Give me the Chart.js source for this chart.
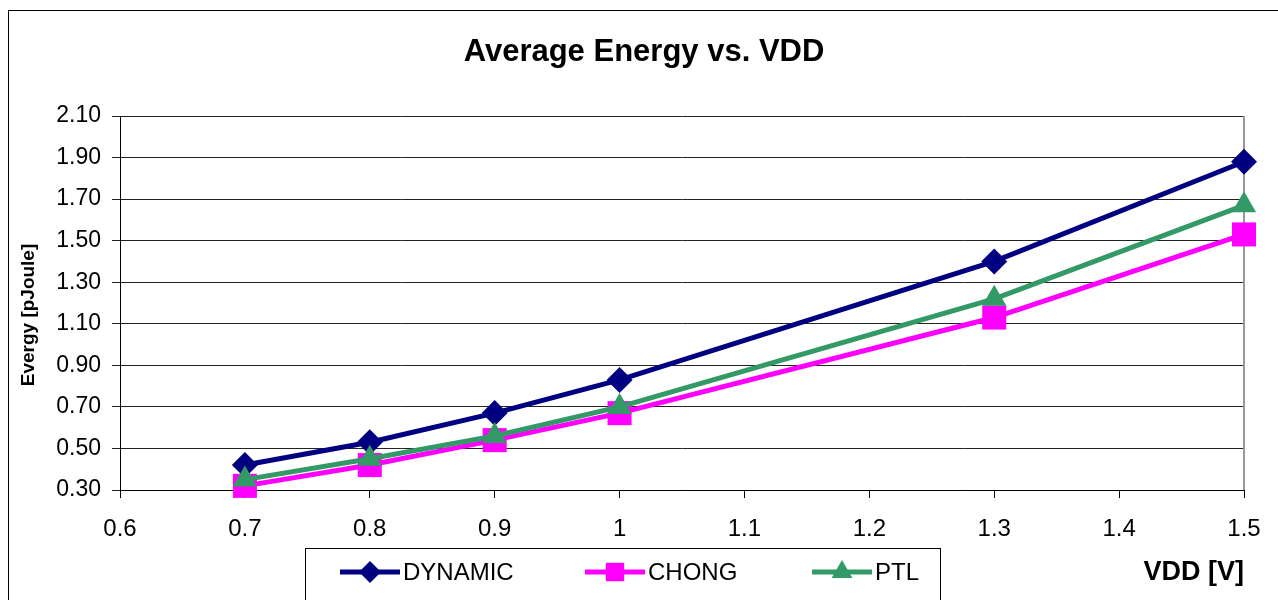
<!DOCTYPE html>
<html>
<head>
<meta charset="utf-8">
<script src="https://cdn.jsdelivr.net/npm/chart.js@4"></script>
<style>
  body { margin: 0; background: #fff; }
  #wrap { width: 1278px; height: 600px; }
</style>
</head>
<body>
<div id="wrap"><canvas id="grafikEnergi" width="1278" height="600"></canvas></div>
<script>
    // data
    const vdd = [0.7, 0.8, 0.9, 1.0, 1.3, 1.5];
    const dynamicData = [0.42, 0.53, 0.67, 0.83, 1.40, 1.88];
    const chongData = [0.32, 0.42, 0.54, 0.67, 1.13, 1.53];
    const ptlData = [0.35, 0.45, 0.56, 0.70, 1.22, 1.67];
    const yTicks = [0.30, 0.50, 0.70, 0.90, 1.10, 1.30, 1.50, 1.70, 1.90, 2.10];
    const xTicks = [0.6, 0.7, 0.8, 0.9, 1, 1.1, 1.2, 1.3, 1.4, 1.5];

    const toPoints = (arr) => arr.map((v, i) => ({ x: vdd[i], y: v }));
    const font = '"Liberation Sans", Arial, sans-serif';

    // judul, label sumbu, legenda dan bingkai
    const extras = {
        id: 'extras',
        beforeDatasetsDraw(chart) {
            const ctx = chart.ctx;
            const area = chart.chartArea;
            ctx.save();
            // garis kanan abu-abu
            ctx.strokeStyle = '#999';
            ctx.lineWidth = 2;
            ctx.beginPath();
            ctx.moveTo(area.right, area.top);
            ctx.lineTo(area.right, area.bottom);
            ctx.stroke();
            ctx.restore();
        },
        afterDraw(chart) {
            const ctx = chart.ctx;
            ctx.save();
            ctx.strokeStyle = '#000';
            ctx.lineWidth = 1;
            ctx.strokeRect(8.5, 10.5, 1300, 700);

            ctx.fillStyle = '#000';
            ctx.textAlign = 'center';
            ctx.textBaseline = 'middle';
            ctx.font = 'bold 31px ' + font;
            ctx.fillText('Average Energy vs. VDD', 644, 52);

            ctx.font = 'bold 27px ' + font;
            ctx.textAlign = 'right';
            ctx.fillText('VDD [V]', 1244, 573);

            ctx.save();
            ctx.translate(29, 315);
            ctx.rotate(-Math.PI / 2);
            ctx.textAlign = 'center';
            ctx.font = 'bold 19px ' + font;
            ctx.fillText('Evergy [pJoule]', 0, 0);
            ctx.restore();

            // kotak legenda
            ctx.fillStyle = '#fff';
            ctx.fillRect(305, 548, 635, 60);
            ctx.strokeStyle = '#000';
            ctx.lineWidth = 1;
            ctx.strokeRect(305.5, 548.5, 635, 60);

            const starts = [340, 585, 812];
            chart.data.datasets.forEach((ds, i) => {
                const x0 = starts[i];
                const y = 572;
                ctx.strokeStyle = ds.borderColor;
                ctx.lineWidth = 5;
                ctx.beginPath();
                ctx.moveTo(x0, y);
                ctx.lineTo(x0 + 60, y);
                ctx.stroke();
                ctx.fillStyle = ds.pointBackgroundColor;
                Chart.helpers.drawPoint(ctx, {
                    pointStyle: ds.pointStyle,
                    radius: ds.legendRadius,
                    borderWidth: 0
                }, x0 + 30, y);
                ctx.fillStyle = '#000';
                ctx.font = '24px ' + font;
                ctx.textAlign = 'left';
                ctx.fillText(ds.label, x0 + 63, y + 1);
            });
            ctx.restore();
        }
    };

    const ctx = document.getElementById('grafikEnergi').getContext('2d');
    const myChart = new Chart(ctx, {
        type: 'line',
        data: {
            datasets: [{
                label: 'DYNAMIC',
                data: toPoints(dynamicData),
                borderColor: '#000080',
                backgroundColor: '#000080',
                pointBackgroundColor: '#000080',
                pointBorderWidth: 0,
                pointStyle: 'rectRot',
                pointRadius: 13,
                legendRadius: 11,
                borderWidth: 5,
                clip: false,
                order: 3
            }, {
                label: 'CHONG',
                data: toPoints(chongData),
                borderColor: '#FF00FF',
                backgroundColor: '#FF00FF',
                pointBackgroundColor: '#FF00FF',
                pointBorderWidth: 0,
                pointStyle: 'rect',
                pointRadius: 17,
                legendRadius: 13,
                borderWidth: 5,
                clip: false,
                order: 2
            }, {
                label: 'PTL',
                data: toPoints(ptlData),
                borderColor: '#339966',
                backgroundColor: '#339966',
                pointBackgroundColor: '#339966',
                pointBorderWidth: 0,
                pointStyle: 'triangle',
                pointRadius: 14,
                legendRadius: 12,
                borderWidth: 5,
                clip: false,
                order: 1
            }]
        },
        options: {
            responsive: false,
            animation: false,
            layout: { padding: { left: 0, top: 116, right: 34, bottom: 0 } },
            plugins: {
                legend: { display: false },
                tooltip: { enabled: false }
            },
            scales: {
                x: {
                    type: 'linear',
                    min: 0.6,
                    max: 1.5,
                    afterBuildTicks: (scale) => { scale.ticks = xTicks.map(v => ({ value: v })); },
                    afterFit: (scale) => { scale.height = 110; },
                    grid: { drawOnChartArea: false, tickLength: 8, color: '#000' },
                    border: { color: '#000', width: 1 },
                    ticks: {
                        color: '#000',
                        font: { family: font, size: 24 },
                        padding: 17,
                        maxRotation: 0,
                        callback: (v) => String(Math.round(v * 10) / 10)
                    }
                },
                y: {
                    min: 0.3,
                    max: 2.1,
                    afterBuildTicks: (scale) => { scale.ticks = yTicks.map(v => ({ value: v })); },
                    afterFit: (scale) => { scale.width = 120; },
                    grid: { color: '#222', tickLength: 8, lineWidth: 1 },
                    border: { color: '#000', width: 1 },
                    ticks: {
                        color: '#000',
                        font: { family: font, size: 23 },
                        padding: 11,
                        callback: (v) => v.toFixed(2)
                    }
                }
            }
        },
        plugins: [extras]
    });
</script>
</body>
</html>
